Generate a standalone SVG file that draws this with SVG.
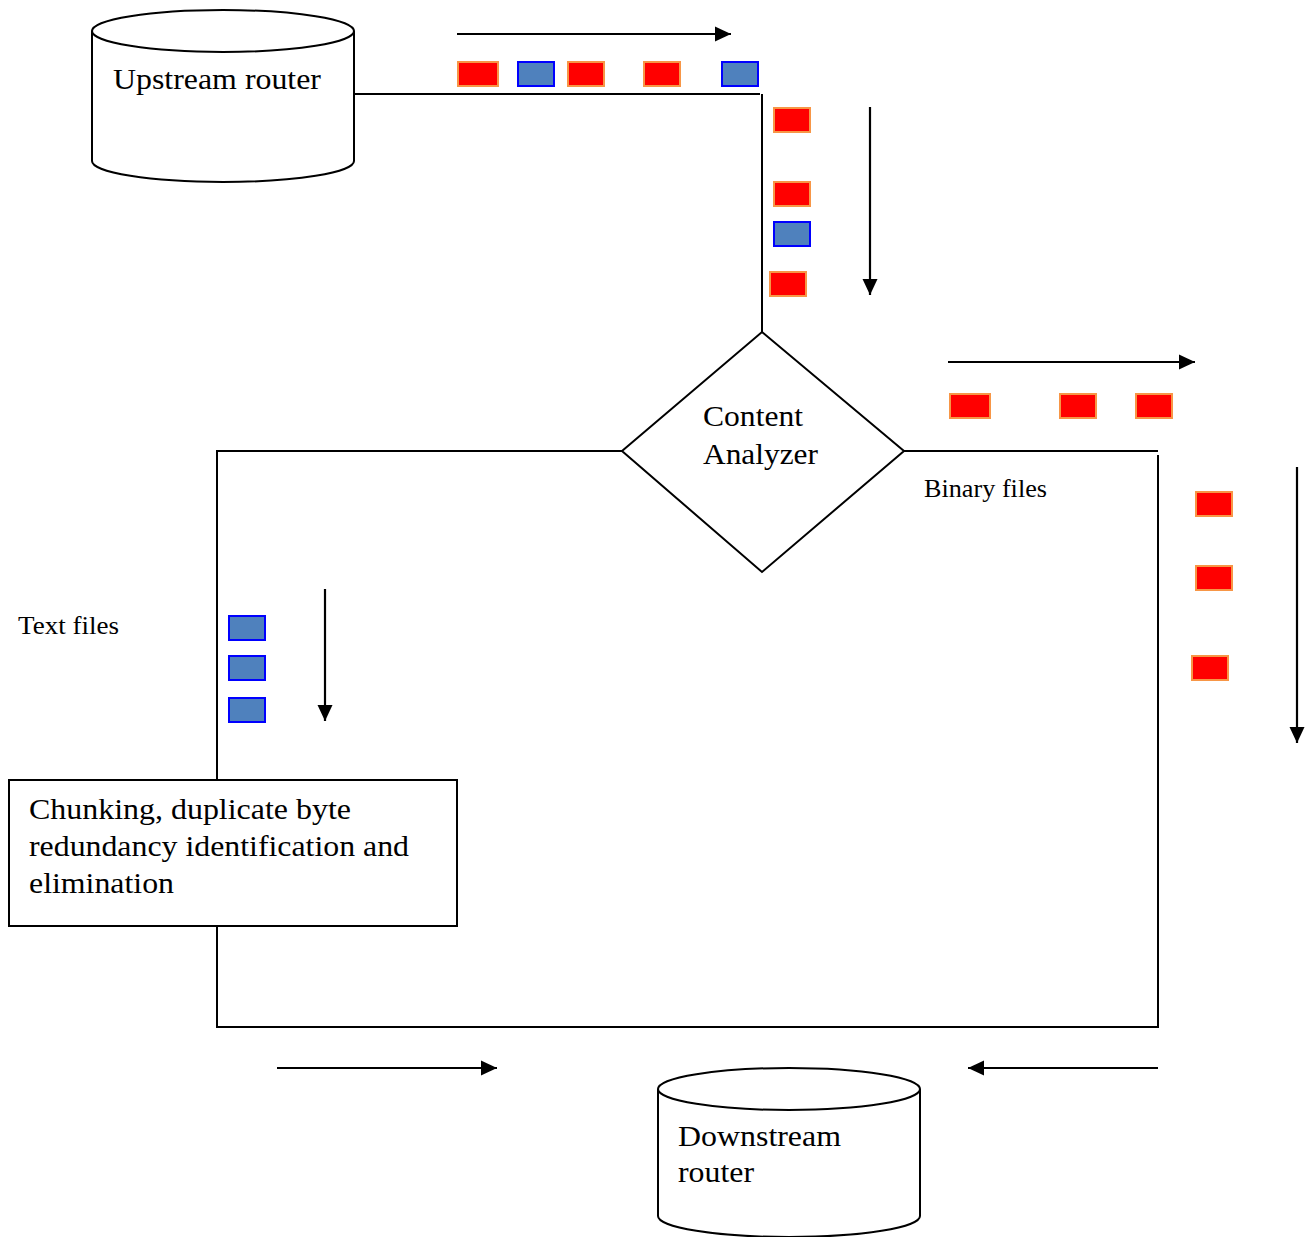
<svg xmlns="http://www.w3.org/2000/svg" width="1313" height="1237" viewBox="0 0 1313 1237">
<style>
.ln{fill:none;stroke:#000;stroke-width:2}
.sh{fill:#fff;stroke:#000;stroke-width:2}
.ar{fill:none;stroke:#000;stroke-width:2.2;marker-end:url(#ah)}
.red{fill:#FF0000;stroke:#F79646;stroke-width:2}
.blue{fill:#4F81BD;stroke:#0000FF;stroke-width:2}
text{font-family:'Liberation Serif','Times New Roman','DejaVu Serif',serif;fill:#000}
.big{font-size:29px}
.sm{font-size:26px}
</style>
<defs>
<marker id="ah" markerUnits="userSpaceOnUse" markerWidth="17" markerHeight="17" viewBox="0 0 17 17" refX="16" refY="8.5" orient="auto">
<path d="M0,1 L16,8.5 L0,16 Z" fill="#000"/>
</marker>
</defs>
<rect width="1313" height="1237" fill="#fff"/>
<g id="connectors">
<polyline class="ln" points="354,94 760,94"/>
<line class="ln" x1="762" y1="94" x2="762" y2="332"/>
<polyline class="ln" points="622,451 217,451 217,780"/>
<polyline class="ln" points="217,926 217,1027 1158,1027 1158,455"/>
<line class="ln" x1="904" y1="451" x2="1158" y2="451"/>
<line class="ar" x1="457" y1="34" x2="731" y2="34"/>
<line class="ar" x1="870" y1="107" x2="870" y2="295"/>
<line class="ar" x1="948" y1="362" x2="1195" y2="362"/>
<line class="ar" x1="1297" y1="467" x2="1297" y2="743"/>
<line class="ar" x1="325" y1="589" x2="325" y2="721"/>
<line class="ar" x1="277" y1="1068" x2="497" y2="1068"/>
<line class="ar" x1="1158" y1="1068" x2="968" y2="1068"/>
</g>
<g id="packets">
<rect class="red" x="458" y="62" width="40" height="24"/>
<rect class="blue" x="518" y="62" width="36" height="24"/>
<rect class="red" x="568" y="62" width="36" height="24"/>
<rect class="red" x="644" y="62" width="36" height="24"/>
<rect class="blue" x="722" y="62" width="36" height="24"/>
<rect class="red" x="774" y="108" width="36" height="24"/>
<rect class="red" x="774" y="182" width="36" height="24"/>
<rect class="blue" x="774" y="222" width="36" height="24"/>
<rect class="red" x="770" y="272" width="36" height="24"/>
<rect class="red" x="950" y="394" width="40" height="24"/>
<rect class="red" x="1060" y="394" width="36" height="24"/>
<rect class="red" x="1136" y="394" width="36" height="24"/>
<rect class="red" x="1196" y="492" width="36" height="24"/>
<rect class="red" x="1196" y="566" width="36" height="24"/>
<rect class="red" x="1192" y="656" width="36" height="24"/>
<rect class="blue" x="229" y="616" width="36" height="24"/>
<rect class="blue" x="229" y="656" width="36" height="24"/>
<rect class="blue" x="229" y="698" width="36" height="24"/>
</g>
<g id="upstream">
<path class="sh" d="M92,31 L92,161 A131,21 0 0 0 354,161 L354,31"/>
<ellipse class="sh" cx="223" cy="31" rx="131" ry="21"/>
<text class="big" x="113" y="89" textLength="208" lengthAdjust="spacingAndGlyphs">Upstream router</text>
</g>
<g id="analyzer">
<polygon class="sh" points="762,332 904,451 762,572 622,451"/>
<text class="big" x="703" y="426" textLength="100" lengthAdjust="spacingAndGlyphs">Content</text>
<text class="big" x="703" y="464" textLength="115" lengthAdjust="spacingAndGlyphs">Analyzer</text>
</g>
<g id="chunking">
<rect class="sh" x="9" y="780" width="448" height="146"/>
<text class="big" x="29" y="819" textLength="322" lengthAdjust="spacingAndGlyphs">Chunking, duplicate byte</text>
<text class="big" x="29" y="856" textLength="380" lengthAdjust="spacingAndGlyphs">redundancy identification and</text>
<text class="big" x="29" y="893" textLength="145" lengthAdjust="spacingAndGlyphs">elimination</text>
</g>
<g id="downstream">
<path class="sh" d="M658,1089 L658,1216 A131,21 0 0 0 920,1216 L920,1089"/>
<ellipse class="sh" cx="789" cy="1089" rx="131" ry="21"/>
<text class="big" x="678" y="1146" textLength="163" lengthAdjust="spacingAndGlyphs">Downstream</text>
<text class="big" x="678" y="1182" textLength="76" lengthAdjust="spacingAndGlyphs">router</text>
</g>
<g id="labels">
<text class="sm" x="18" y="634" textLength="101" lengthAdjust="spacingAndGlyphs">Text files</text>
<text class="sm" x="924" y="497" textLength="123" lengthAdjust="spacingAndGlyphs">Binary files</text>
</g>
</svg>
